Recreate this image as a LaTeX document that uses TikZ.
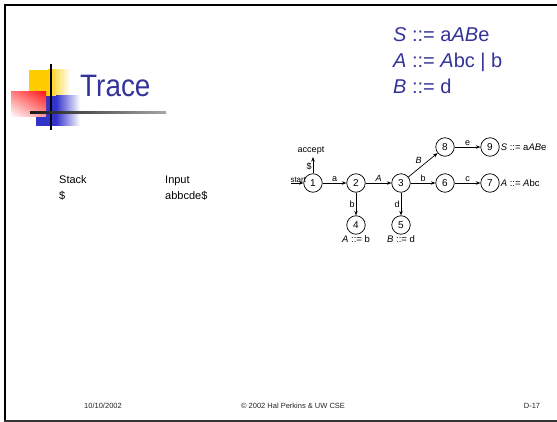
\documentclass[tikz,border=0pt]{standalone}
\usepackage{fontspec}
\setmainfont{Liberation Sans}
\usetikzlibrary{arrows.meta,shadings}
\definecolor{slideblue}{HTML}{333399}
\definecolor{logoyellow}{HTML}{FFCC00}
\definecolor{logoblue}{HTML}{3333CC}
\definecolor{logored}{HTML}{FF1A1A}
\begin{document}
\begin{tikzpicture}[x=1pt,y=-1pt,
  state/.style={circle, draw, line width=0.7pt, minimum size=18.5pt, inner sep=0pt,
    font=\fontsize{10}{11}\selectfont},
  edge/.style={-{Stealth[length=4.5pt,width=3.5pt]}, line width=0.7pt},
  lbl/.style={font=\fontsize{9}{10}\selectfont, inner sep=1pt},
  rule/.style={font=\fontsize{9.5}{10}\selectfont, inner sep=1pt},
  body/.style={font=\fontsize{11}{12}\selectfont, anchor=base west, inner sep=0pt},
  gram/.style={font=\fontsize{20}{24}\selectfont, text=slideblue, anchor=base west, inner sep=0pt},
  foot/.style={font=\fontsize{7.5}{9}\selectfont, text=black!85, anchor=base, inner sep=0pt}]
\useasboundingbox (0,0) rectangle (557,422);
\fill[white] (0,0) rectangle (557,422);

% slide frame
\draw[line width=2pt] (5,422) -- (5,5) -- (557,5);
\draw[line width=2pt, black!80] (4,421) -- (557,421);

% title logo: three fading squares and crossing rules
\fill[logoyellow] (29,70) rectangle (48,97);
\shade[left color=logoyellow, right color=white] (48,70) rectangle (70,97);
\fill[logoblue] (36,96) rectangle (56,126);
\shade[left color=logoblue, right color=white] (56,96) rectangle (80,126);
\shade[upper right=logored, upper left=logored!55, lower right=logored!45, lower left=white]
  (11,92) rectangle (46,117);
\draw[line width=1.3pt] (51,64) -- (51,130);
\shade[left color=black!90, right color=black!35] (30,112) rectangle (166,114);

% title and grammar
\node[font=\fontsize{31}{34}\selectfont, text=slideblue, anchor=base west, inner sep=0pt] (title) at (80,97) {\scalebox{0.9}[1]{Trace}};
\node[gram] (g1) at (393,42) {\textit{S} ::= a\textit{AB}e};
\node[gram] (g2) at (393,68) {\textit{A} ::= \textit{A}bc | b};
\node[gram] (g3) at (393,94) {\textit{B} ::= d};

% stack / input columns
\node[body] (stackhd) at (59,184) {Stack};
\node[body] (inputhd) at (165,184) {Input};
\node[body] (stack) at (59,200) {\$};
\node[body] (input) at (165,200) {abbcde\$};

% LR(0) automaton
\node[state] (n1) at (313,183) {1};
\node[state] (n2) at (356,183) {2};
\node[state] (n3) at (401,183) {3};
\node[state] (n6) at (445,183) {6};
\node[state] (n7) at (490,183) {7};
\node[state] (n8) at (445,147) {8};
\node[state] (n9) at (490,147) {9};
\node[state] (n4) at (356,225) {4};
\node[state] (n5) at (401,225) {5};

\coordinate (startpt) at (291,183);
\coordinate (acceptpt) at (313,157);
\draw[edge] (startpt) -- (n1);
\node[font=\fontsize{8}{9}\selectfont, anchor=south west, inner sep=0.3pt] (startlbl) at (290,183) {start};
\draw[edge] (n1) -- node[lbl, left, pos=0.45] {\$} (acceptpt);
\node[lbl, anchor=south] (acceptlbl) at (311,156) {accept};

\draw[edge] (n1) -- node[lbl, above] {a} (n2);
\draw[edge] (n2) -- node[lbl, above] {\textit{A}} (n3);
\draw[edge] (n3) -- node[lbl, above] {b} (n6);
\draw[edge] (n6) -- node[lbl, above] {c} (n7);
\draw[edge] (n8) -- node[lbl, above] {e} (n9);
\draw[edge] (n3) -- node[lbl, above left] {\textit{B}} (n8);
\draw[edge] (n2) -- node[lbl, left] {b} (n4);
\draw[edge] (n3) -- node[lbl, left] {d} (n5);

\node[rule, anchor=west] (r9) at (n9.east) {\textit{S} ::= a\textit{AB}e};
\node[rule, anchor=west] (r7) at (n7.east) {\textit{A} ::= \textit{A}bc};
\node[rule, anchor=north] (r4) at (n4.south) {\textit{A} ::= b};
\node[rule, anchor=north] (r5) at (n5.south) {\textit{B} ::= d};

% footer
\node[foot] (date) at (103,408) {10/10/2002};
\node[foot] (copy) at (293,408) {\textcopyright{} 2002 Hal Perkins \& UW CSE};
\node[foot] (page) at (532,408) {D-17};
\end{tikzpicture}
\end{document}
